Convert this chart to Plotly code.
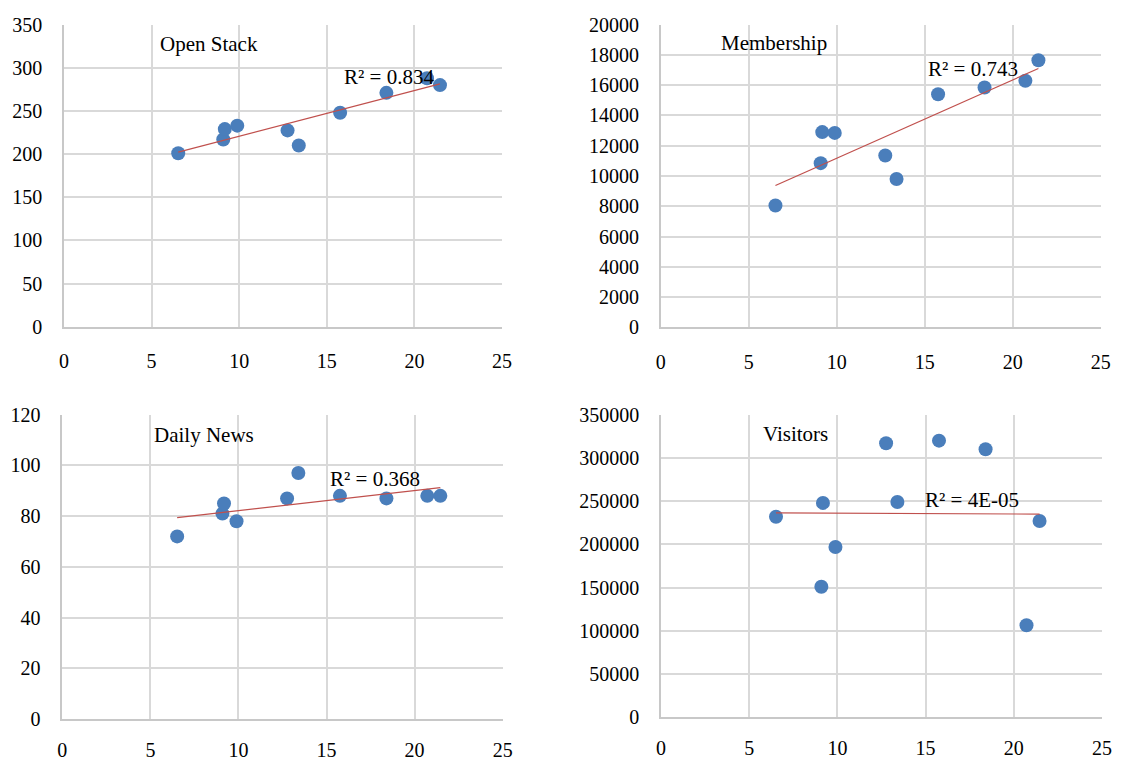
import numpy as np
import plotly.graph_objects as go

# Shared x values for the four panels
x_vals = [6.52, 9.09, 9.18, 9.89, 12.76, 13.40, 15.76, 18.40, 20.72, 21.46]

# Series values
open_stack = [201, 217, 229, 233, 227.5, 210, 248, 271, 288, 280]
membership = [8050, 10850, 12900, 12850, 11350, 9800, 15400, 15850, 16300, 17650]
daily_news = [72, 81, 85, 78, 87, 97, 88, 87, 88, 88]
visitors = [232000, 151000, 248000, 197000, 317000, 249000, 320000, 310000, 106500, 227000]

titles = ["Open Stack", "Membership", "Daily News", "Visitors"]
r2_labels = ["R² = 0.834", "R² = 0.743", "R² = 0.368", "R² = 4E-05"]
y_ranges = [[0, 350], [0, 20000], [0, 120], [0, 350000]]
y_dticks = [50, 2000, 20, 50000]

series = [open_stack, membership, daily_news, visitors]

W, H = 1126, 762
# pixel boxes of each plot area: (left, right, top, bottom)
boxes = [
    (64, 502, 24.7, 326.7),
    (660.7, 1100.7, 24.7, 327.3),
    (62.3, 502.7, 414.7, 719),
    (661, 1102, 414.7, 717.3),
]
x_standoff = [16, 16, 12, 12]
title_pos = [(0.215, 0.936), (0.133, 0.940), (0.204, 0.933), (0.226, 0.935)]
r2_pos = [(0.635, 0.828), (0.603, 0.853), (0.603, 0.790), (0.593, 0.718)]

BLUE = "#4A7EBB"
RED = "#C0504D"
GRID = "#D9D9D9"
FONT = "Liberation Serif"

fig = go.Figure()
layout = dict(
    width=W, height=H,
    margin=dict(l=0, r=0, t=0, b=0, pad=0, autoexpand=False),
    paper_bgcolor="white", plot_bgcolor="white",
    showlegend=False,
    font=dict(family=FONT, size=20, color="black"),
    annotations=[],
)

for i, ys in enumerate(series):
    n = "" if i == 0 else str(i + 1)
    xa, ya = "x" + n, "y" + n
    l, r, t, b = boxes[i]

    fig.add_trace(go.Scatter(
        x=x_vals, y=ys, mode="markers", xaxis=xa, yaxis=ya,
        marker=dict(color=BLUE, size=14, line=dict(width=0)),
    ))

    # linear least-squares trendline over the data range
    slope, icpt = np.polyfit(x_vals, ys, 1)
    tx = [min(x_vals), max(x_vals)]
    ty = [slope * v + icpt for v in tx]
    fig.add_trace(go.Scatter(
        x=tx, y=ty, mode="lines", xaxis=xa, yaxis=ya,
        line=dict(color=RED, width=1.2),
    ))

    layout["xaxis" + n] = dict(
        domain=[l / W, r / W], anchor=ya, range=[0, 25], dtick=5,
        showgrid=True, gridcolor=GRID, gridwidth=1.5,
        zeroline=False, showline=True, linecolor="#C8C8C8", linewidth=1.5,
        ticks="", ticklabelstandoff=x_standoff[i],
        tickfont=dict(family=FONT, size=20),
        automargin=False, fixedrange=True,
    )
    layout["yaxis" + n] = dict(
        domain=[1 - b / H, 1 - t / H], anchor=xa, range=y_ranges[i],
        dtick=y_dticks[i], tickformat="d",
        showgrid=True, gridcolor=GRID, gridwidth=1.5,
        zeroline=False, showline=True, linecolor="#C8C8C8", linewidth=1.5,
        ticks="", ticklabelstandoff=16, tickfont=dict(family=FONT, size=20),
        automargin=False, fixedrange=True,
    )

    tx0, ty0 = title_pos[i]
    layout["annotations"].append(dict(
        text=titles[i], xref=xa + " domain", yref=ya + " domain",
        x=tx0, y=ty0, xanchor="left", yanchor="middle", showarrow=False,
        font=dict(family=FONT, size=21, color="black"),
    ))
    rx0, ry0 = r2_pos[i]
    layout["annotations"].append(dict(
        text=r2_labels[i], xref=xa + " domain", yref=ya + " domain",
        x=rx0, y=ry0, xanchor="left", yanchor="middle", showarrow=False,
        font=dict(family=FONT, size=21, color="black"),
    ))

fig.update_layout(**layout)
fig.write_html("out.html")
